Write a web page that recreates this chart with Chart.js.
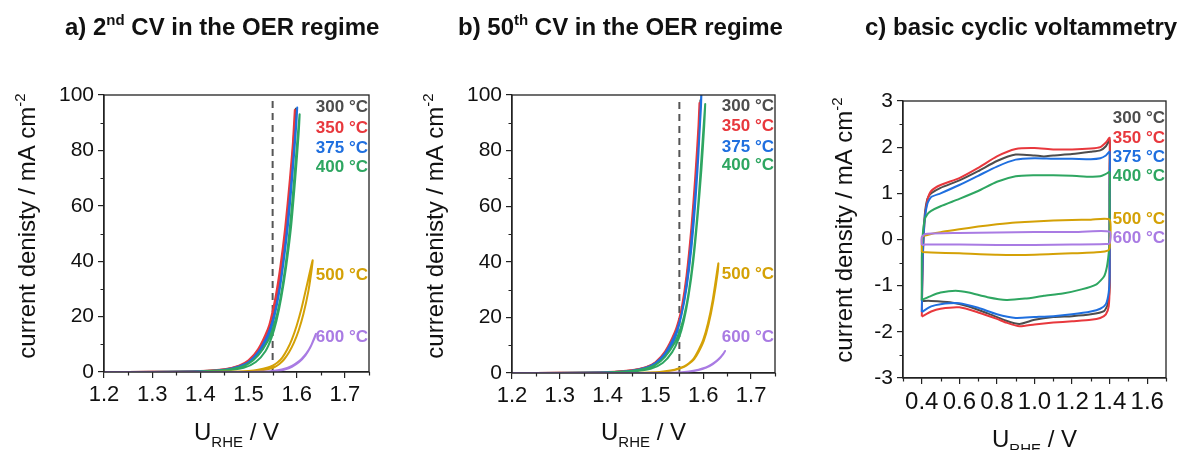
<!DOCTYPE html>
<html>
<head>
<meta charset="utf-8">
<title>OER and basic CV</title>
<script src="https://cdn.jsdelivr.net/npm/chart.js@4.4.1/dist/chart.umd.min.js"></script>
<style>
  html, body { margin: 0; padding: 0; background: #fff; }
  #figure { position: relative; width: 1183px; height: 450px; overflow: hidden; }
  #figure canvas { position: absolute; top: 0; }
</style>
</head>
<body>
<div id="figure">
  <canvas id="panelA" width="400" height="450" style="left:0;width:400px;height:450px"></canvas>
  <canvas id="panelB" width="390" height="450" style="left:400px;width:390px;height:450px"></canvas>
  <canvas id="panelC" width="393" height="450" style="left:790px;width:393px;height:450px"></canvas>
</div>
<script>
// temperatures and their colours
const tempLabels = ["300 °C", "350 °C", "375 °C", "400 °C", "500 °C", "600 °C"];
const tempColors = ["#4d4d4d", "#e8383d", "#1f6fdf", "#2ea661", "#d4a106", "#a97be3"];

// tick values
const oerXTicks = [1.2, 1.3, 1.4, 1.5, 1.6, 1.7];
const oerYTicks = [0, 20, 40, 60, 80, 100];
const basicXTicks = [0.4, 0.6, 0.8, 1.0, 1.2, 1.4, 1.6];
const basicYTicks = [-3, -2, -1, 0, 1, 2, 3];

// reference potential (dashed line), [U, j]
const refLine = [[1.55, 0], [1.55, 98]];

// a) 2nd CV in the OER regime: [U / V, j / mA cm-2], anodic sweep then return
const cv2nd300 = [[1.20,0],[1.30,0.05],[1.40,0.3],[1.45,0.9],[1.48,2.1],[1.50,3.8],[1.52,7.5],[1.54,14],[1.55,19.5],[1.56,27],[1.57,39],[1.58,55],[1.59,75],[1.598,95],
  [1.596,88],[1.588,70],[1.578,51],[1.568,37],[1.558,25.5],[1.548,17.5],[1.535,11],[1.52,6.8],[1.50,3.4],[1.48,1.8],[1.45,0.7],[1.40,0.2],[1.30,0],[1.20,0]];
const cv2nd350 = [[1.20,0],[1.30,0.05],[1.40,0.35],[1.45,1.0],[1.48,2.3],[1.50,4.2],[1.52,8.3],[1.54,15.5],[1.55,21],[1.56,29],[1.57,41],[1.58,57],[1.59,77],[1.596,94.5],
  [1.594,87],[1.586,70],[1.576,52],[1.566,38],[1.556,27],[1.546,19],[1.535,12.5],[1.52,7.2],[1.50,3.6],[1.48,1.9],[1.45,0.8],[1.40,0.25],[1.30,0],[1.20,0]];
const cv2nd375 = [[1.20,0],[1.30,0.04],[1.40,0.28],[1.45,0.85],[1.48,2.0],[1.50,3.6],[1.52,7.2],[1.54,13.5],[1.55,18.5],[1.56,26],[1.57,37],[1.58,52],[1.59,71],[1.597,86],[1.601,95.5],
  [1.599,89],[1.592,73],[1.583,55],[1.573,40],[1.563,28],[1.553,19.5],[1.543,13.5],[1.53,8.5],[1.51,4.5],[1.48,1.7],[1.45,0.7],[1.40,0.2],[1.30,0],[1.20,0]];
const cv2nd400 = [[1.20,0],[1.30,0.03],[1.40,0.22],[1.45,0.7],[1.48,1.6],[1.50,3.0],[1.52,6.0],[1.54,11.2],[1.55,15.5],[1.56,21.5],[1.57,30.5],[1.58,43],[1.59,60],[1.60,81],[1.606,93],
  [1.604,86],[1.597,70],[1.588,52],[1.578,38],[1.568,27],[1.558,18.5],[1.548,12.5],[1.535,7.5],[1.515,3.6],[1.49,1.5],[1.45,0.5],[1.40,0.15],[1.30,0],[1.20,0]];
const cv2nd500 = [[1.20,0],[1.40,0.02],[1.48,0.15],[1.50,0.35],[1.52,0.8],[1.54,1.6],[1.55,2.3],[1.56,3.4],[1.57,5.2],[1.58,8.0],[1.59,11.8],[1.60,16.8],[1.61,23],[1.62,30.5],[1.633,40.3],
  [1.631,37],[1.624,29],[1.614,21],[1.604,15],[1.594,10.5],[1.584,7.1],[1.574,4.6],[1.564,2.9],[1.554,1.8],[1.54,1.0],[1.52,0.45],[1.50,0.2],[1.40,0],[1.20,0]];
const cv2nd600 = [[1.20,0],[1.50,0.02],[1.54,0.2],[1.56,0.6],[1.58,1.5],[1.59,2.2],[1.60,3.3],[1.61,4.7],[1.62,6.7],[1.63,9.6],[1.64,13.8],
  [1.637,12.3],[1.628,8.8],[1.618,6.0],[1.605,3.6],[1.59,1.9],[1.575,0.9],[1.56,0.35],[1.54,0.1],[1.50,0],[1.20,0]];

// b) 50th CV in the OER regime
const cv50th300 = [[1.20,0],[1.30,0.05],[1.40,0.3],[1.45,0.9],[1.48,2.0],[1.50,3.7],[1.52,7.3],[1.54,13.7],[1.55,18.8],[1.56,26.5],[1.57,38.5],[1.58,57],[1.588,78],[1.594,98],
  [1.592,90],[1.585,71],[1.577,53],[1.567,36],[1.557,24],[1.547,16.5],[1.535,10.5],[1.52,6.5],[1.50,3.3],[1.48,1.7],[1.45,0.7],[1.40,0.2],[1.30,0],[1.20,0]];
const cv50th350 = [[1.20,0],[1.30,0.05],[1.40,0.32],[1.45,0.95],[1.48,2.1],[1.50,3.9],[1.52,7.7],[1.54,14.5],[1.55,19.8],[1.56,27.5],[1.57,40],[1.58,59],[1.586,74],[1.592,97],
  [1.590,89],[1.583,70],[1.575,52],[1.565,35],[1.555,23.5],[1.545,16],[1.533,10.2],[1.52,6.8],[1.50,3.4],[1.48,1.8],[1.45,0.75],[1.40,0.22],[1.30,0],[1.20,0]];
const cv50th375 = [[1.20,0],[1.30,0.04],[1.40,0.28],[1.45,0.85],[1.48,1.95],[1.50,3.6],[1.52,7.1],[1.54,13.3],[1.55,18.2],[1.56,25.5],[1.57,37],[1.58,54],[1.59,79],[1.5965,103],
  [1.595,95],[1.588,75],[1.579,55],[1.569,37.5],[1.559,25],[1.549,17],[1.537,11],[1.52,6.4],[1.50,3.2],[1.48,1.7],[1.45,0.7],[1.40,0.2],[1.30,0],[1.20,0]];
const cv50th400 = [[1.20,0],[1.30,0.03],[1.40,0.22],[1.45,0.7],[1.48,1.6],[1.50,2.9],[1.52,5.8],[1.54,10.8],[1.55,14.8],[1.56,20.5],[1.57,29.5],[1.58,43],[1.59,62],[1.598,82],[1.604,96.7],
  [1.602,89],[1.596,73],[1.588,56],[1.579,40],[1.569,27.5],[1.559,18.5],[1.549,12.5],[1.535,7.5],[1.515,3.6],[1.49,1.5],[1.45,0.5],[1.40,0.15],[1.30,0],[1.20,0]];
const cv50th500 = [[1.20,0],[1.45,0.02],[1.50,0.3],[1.52,0.65],[1.54,1.2],[1.55,1.7],[1.56,2.4],[1.57,3.5],[1.58,5.2],[1.59,8.2],[1.60,12],[1.61,18],[1.62,26.5],[1.6315,39.4],
  [1.630,36],[1.621,26],[1.611,17.5],[1.601,11.5],[1.591,7.8],[1.581,5.0],[1.57,3.3],[1.56,2.2],[1.54,1.1],[1.52,0.55],[1.50,0.25],[1.45,0],[1.20,0]];
const cv50th600 = [[1.20,0],[1.52,0.02],[1.55,0.2],[1.57,0.55],[1.59,1.2],[1.60,1.7],[1.61,2.4],[1.62,3.4],[1.63,4.7],[1.64,6.4],[1.6455,7.9],
  [1.643,7.2],[1.633,5.0],[1.62,3.2],[1.605,1.9],[1.59,1.1],[1.57,0.45],[1.55,0.12],[1.52,0],[1.20,0]];

// c) basic cyclic voltammetry: anodic branch, then cathodic branch
const basic300 = [[0.40,-1.33],[0.405,-0.3],[0.415,0.5],[0.43,0.88],[0.45,1.0],[0.50,1.12],[0.60,1.28],[0.70,1.48],[0.80,1.70],[0.90,1.84],[1.00,1.82],[1.05,1.80],[1.10,1.82],[1.20,1.85],[1.30,1.90],[1.35,1.93],[1.38,2.02],[1.40,2.15],
  [1.40,1.5],[1.40,0],[1.40,-1.0],[1.39,-1.4],[1.37,-1.55],[1.30,-1.62],[1.20,-1.66],[1.10,-1.68],[1.00,-1.74],[0.92,-1.83],[0.85,-1.76],[0.75,-1.60],[0.65,-1.45],[0.55,-1.36],[0.45,-1.33],[0.40,-1.33]];
const basic350 = [[0.40,-1.67],[0.405,-0.5],[0.415,0.4],[0.43,0.85],[0.45,1.05],[0.50,1.18],[0.60,1.33],[0.70,1.55],[0.80,1.80],[0.90,1.96],[1.00,1.98],[1.10,1.95],[1.20,1.95],[1.30,1.97],[1.35,2.0],[1.38,2.1],[1.40,2.2],
  [1.40,1.6],[1.40,0],[1.40,-1.0],[1.395,-1.45],[1.38,-1.62],[1.35,-1.70],[1.30,-1.74],[1.20,-1.77],[1.10,-1.80],[1.00,-1.84],[0.92,-1.88],[0.85,-1.80],[0.80,-1.72],[0.70,-1.58],[0.60,-1.47],[0.50,-1.50],[0.45,-1.56],[0.40,-1.67]];
const basic375 = [[0.40,-1.57],[0.405,-0.4],[0.415,0.4],[0.43,0.78],[0.45,0.92],[0.50,1.0],[0.60,1.18],[0.70,1.38],[0.80,1.58],[0.90,1.73],[1.00,1.76],[1.10,1.75],[1.20,1.75],[1.30,1.74],[1.35,1.76],[1.38,1.82],[1.40,1.90],
  [1.40,1.2],[1.40,0],[1.40,-0.8],[1.395,-1.15],[1.38,-1.40],[1.35,-1.50],[1.30,-1.56],[1.20,-1.62],[1.10,-1.66],[1.00,-1.68],[0.90,-1.70],[0.80,-1.62],[0.70,-1.48],[0.60,-1.38],[0.50,-1.40],[0.45,-1.45],[0.40,-1.57]];
const basic400 = [[0.40,-1.31],[0.40,-0.4],[0.405,0.1],[0.415,0.42],[0.43,0.55],[0.45,0.62],[0.50,0.72],[0.60,0.88],[0.70,1.05],[0.80,1.25],[0.90,1.37],[1.00,1.39],[1.10,1.39],[1.20,1.38],[1.30,1.36],[1.35,1.37],[1.38,1.42],[1.40,1.46],
  [1.40,1.0],[1.40,0],[1.395,-0.3],[1.385,-0.6],[1.37,-0.8],[1.33,-0.97],[1.25,-1.08],[1.15,-1.17],[1.05,-1.22],[0.95,-1.28],[0.85,-1.31],[0.75,-1.25],[0.65,-1.15],[0.58,-1.11],[0.50,-1.15],[0.45,-1.22],[0.40,-1.31]];
const basic500 = [[0.40,-0.27],[0.40,0.0],[0.405,0.07],[0.45,0.12],[0.50,0.16],[0.60,0.22],[0.70,0.28],[0.80,0.33],[0.90,0.37],[1.00,0.39],[1.10,0.41],[1.20,0.42],[1.30,0.43],[1.40,0.43],
  [1.40,-0.18],[1.39,-0.24],[1.35,-0.27],[1.20,-0.30],[1.00,-0.33],[0.80,-0.33],[0.60,-0.30],[0.45,-0.28],[0.40,-0.27]];
const basic600 = [[0.40,-0.12],[0.40,0.05],[0.42,0.12],[0.60,0.14],[0.80,0.15],[1.00,0.16],[1.20,0.16],[1.40,0.17],
  [1.40,-0.08],[1.38,-0.10],[1.20,-0.11],[1.00,-0.12],[0.80,-0.12],[0.60,-0.11],[0.42,-0.11],[0.40,-0.12]];

const fontFamily = "'Liberation Sans', Arial, Helvetica, sans-serif";
Chart.defaults.font.family = fontFamily;
Chart.defaults.color = "#111";

// draw text made of parts, some raised (sup) or lowered (sub)
function drawRich(ctx, parts, x, y, size, weight, align) {
  const fontFor = (p) => `${weight} ${p.sup || p.sub ? Math.round(size * 0.64) : size}px ${fontFamily}`;
  let total = 0;
  parts.forEach((p) => { ctx.font = fontFor(p); total += ctx.measureText(p.t).width; });
  let cx = align === "center" ? x - total / 2 : x;
  ctx.textAlign = "left";
  ctx.textBaseline = "alphabetic";
  parts.forEach((p) => {
    ctx.font = fontFor(p);
    const dy = p.sup ? -size * 0.42 : p.sub ? size * 0.3 : 0;
    ctx.fillText(p.t, cx, y + dy);
    cx += ctx.measureText(p.t).width;
  });
}

// minor ticks sit halfway between the major ones
function minorTicks(major, min, max) {
  const step = major[1] - major[0];
  const out = [major[0] - step / 2].concat(major.map((v) => v + step / 2));
  return out.filter((v) => v >= min - 1e-9 && v <= max + 1e-9);
}

const panelDecor = {
  id: "panelDecor",
  afterDraw(chart, args, opts) {
    const { ctx, chartArea: area, scales } = chart;
    ctx.save();
    ctx.fillStyle = "#111";
    ctx.strokeStyle = "#222";
    ctx.lineWidth = 1.3;
    ctx.strokeRect(area.left, area.top, area.right - area.left, area.bottom - area.top);

    // minor tick marks
    ctx.lineWidth = 1.2;
    ctx.beginPath();
    minorTicks(opts.xTicks, scales.x.min, scales.x.max).forEach((v) => {
      const px = Math.round(scales.x.getPixelForValue(v)) + 0.5;
      ctx.moveTo(px, area.bottom);
      ctx.lineTo(px, area.bottom + 3.5);
    });
    minorTicks(opts.yTicks, scales.y.min, scales.y.max).forEach((v) => {
      const py = Math.round(scales.y.getPixelForValue(v)) + 0.5;
      ctx.moveTo(area.left, py);
      ctx.lineTo(area.left - 3.5, py);
    });
    ctx.stroke();

    // temperature labels
    ctx.font = `bold 17px ${fontFamily}`;
    ctx.textAlign = "right";
    ctx.textBaseline = "middle";
    opts.labelY.forEach((j, i) => {
      ctx.fillStyle = tempColors[i];
      ctx.fillText(tempLabels[i], area.right - 1, scales.y.getPixelForValue(j));
    });

    // panel title
    ctx.fillStyle = "#111";
    drawRich(ctx, opts.title, opts.titleX, 35, 24, "bold", "left");

    // axis titles
    drawRich(ctx, [{ t: "U" }, { t: "RHE", sub: true }, { t: " / V" }], (area.left + area.right) / 2, opts.xTitleY, 24, "normal", "center");
    ctx.save();
    ctx.translate(opts.yTitleX, opts.yTitleY);
    ctx.rotate(-Math.PI / 2);
    drawRich(ctx, [{ t: opts.yTitle }, { t: "-2", sup: true }], 0, 0, 24, "normal", "center");
    ctx.restore();
    ctx.restore();
  },
};

function axis(min, max, ticks, fmt, horizontal, fontSize) {
  return {
    type: "linear",
    min: min,
    max: max,
    afterBuildTicks: (s) => { s.ticks = ticks.map((v) => ({ value: v })); },
    afterFit: (s) => { if (horizontal) s.height = 40; else s.width = 50; },
    grid: { drawOnChartArea: false, drawTicks: true, tickLength: 6, color: "#222", lineWidth: 1.2 },
    border: { display: true, color: "#222", width: 1.3 },
    ticks: { autoSkip: false, maxRotation: 0, minRotation: 0, padding: 4, color: "#111", font: { size: fontSize }, callback: fmt },
  };
}

function buildDatasets(series, dashed, tension) {
  const sets = series.map((pts, i) => ({
    data: pts.map(([x, y]) => ({ x: x, y: y })),
    borderColor: tempColors[i],
    borderWidth: 2,
    pointRadius: 0,
    tension: tension,
    fill: false,
    order: series.length - i,
  }));
  if (dashed) {
    sets.push({
      data: dashed.map(([x, y]) => ({ x: x, y: y })),
      borderColor: "#555",
      borderWidth: 2,
      borderDash: [7, 5],
      pointRadius: 0,
      fill: false,
      order: 20,
    });
  }
  return sets;
}

function makePanel(canvasId, cfg) {
  new Chart(document.getElementById(canvasId), {
    type: "line",
    data: { datasets: buildDatasets(cfg.series, cfg.dashed, cfg.tension) },
    options: {
      responsive: false,
      maintainAspectRatio: false,
      animation: false,
      events: [],
      layout: { padding: cfg.padding },
      plugins: { legend: { display: false }, tooltip: { enabled: false }, panelDecor: cfg.decor },
      scales: {
        x: axis(cfg.xRange[0], cfg.xRange[1], cfg.xTicks, (v) => v.toFixed(1), true, cfg.xTickSize),
        y: axis(cfg.yRange[0], cfg.yRange[1], cfg.yTicks, (v) => String(v), false, 21),
      },
    },
    plugins: [panelDecor],
  });
}

makePanel("panelA", {
  series: [cv2nd300, cv2nd350, cv2nd375, cv2nd400, cv2nd500, cv2nd600],
  dashed: refLine,
  tension: 0.25,
  xRange: [1.2, 1.75], yRange: [0, 100],
  xTicks: oerXTicks, yTicks: oerYTicks, xTickSize: 22,
  padding: { left: 54, right: 31, top: 95, bottom: 38 },
  decor: {
    xTicks: oerXTicks, yTicks: oerYTicks,
    labelY: [95.6, 88, 80.8, 74, 35, 12.5],
    title: [{ t: "a) 2" }, { t: "nd", sup: true }, { t: " CV in the OER regime" }],
    titleX: 65, xTitleY: 440, yTitleX: 35, yTitleY: 226,
    yTitle: "current denisty / mA cm",
  },
});

makePanel("panelB", {
  series: [cv50th300, cv50th350, cv50th375, cv50th400, cv50th500, cv50th600],
  dashed: refLine,
  tension: 0.25,
  xRange: [1.2, 1.75], yRange: [0, 100],
  xTicks: oerXTicks, yTicks: oerYTicks, xTickSize: 22,
  padding: { left: 62, right: 15, top: 95, bottom: 37 },
  decor: {
    xTicks: oerXTicks, yTicks: oerYTicks,
    labelY: [96, 88.8, 81.2, 74.8, 35.5, 12.9],
    title: [{ t: "b) 50" }, { t: "th", sup: true }, { t: " CV in the OER regime" }],
    titleX: 58, xTitleY: 440, yTitleX: 43, yTitleY: 226,
    yTitle: "current denisty / mA cm",
  },
});

makePanel("panelC", {
  series: [basic300, basic350, basic375, basic400, basic500, basic600],
  dashed: null,
  tension: 0.2,
  xRange: [0.3, 1.7], yRange: [-3, 3],
  xTicks: basicXTicks, yTicks: basicYTicks, xTickSize: 24,
  padding: { left: 63, right: 17, top: 101, bottom: 32 },
  decor: {
    xTicks: basicXTicks, yTicks: basicYTicks,
    labelY: [2.62, 2.19, 1.78, 1.36, 0.44, 0.03],
    title: [{ t: "c) basic cyclic voltammetry" }],
    titleX: 75, xTitleY: 447, yTitleX: 62, yTitleY: 230,
    yTitle: "current density / mA cm",
  },
});
</script>
</body>
</html>
